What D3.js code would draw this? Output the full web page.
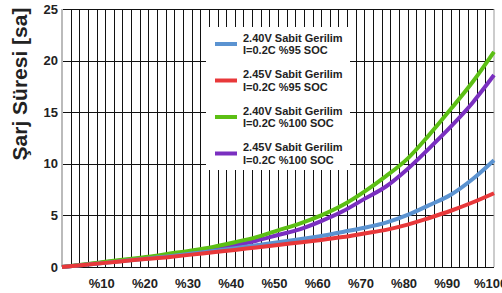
<!DOCTYPE html>
<html>
<head>
<meta charset="utf-8">
<script src="https://cdn.jsdelivr.net/npm/d3@7"></script>
<style>
  body { margin: 0; background: #fff; }
  text { font-family: 'Liberation Sans', Arial, sans-serif; font-weight: bold; fill: #222; }
</style>
</head>
<body>
<svg id="chart" width="502" height="293"></svg>
<script>
// charge level (%) on x, charge time (hours) on y
const soc = [0, 5, 10, 15, 20, 25, 30, 35, 40, 45, 50, 55, 60, 65, 70, 75, 80, 85, 90, 95, 100];

const blue240_95 = [0, 0.2, 0.4, 0.62, 0.83, 1.05, 1.3, 1.55, 1.82, 2.1, 2.4, 2.7, 3.0, 3.4, 3.8, 4.3, 5.05, 6.0, 7.0, 8.5, 10.35];
const red245_95 = [0, 0.2, 0.4, 0.6, 0.8, 0.98, 1.2, 1.43, 1.65, 1.9, 2.13, 2.38, 2.62, 2.9, 3.25, 3.6, 4.1, 4.75, 5.45, 6.25, 7.15];
const green240_100 = [0, 0.25, 0.5, 0.75, 1.0, 1.3, 1.6, 1.95, 2.4, 2.9, 3.55, 4.2, 5.0, 6.0, 7.3, 8.8, 10.5, 12.8, 15.3, 17.9, 20.85];
const purple245_100 = [0, 0.22, 0.45, 0.68, 0.92, 1.17, 1.45, 1.75, 2.1, 2.55, 3.1, 3.65, 4.45, 5.4, 6.6, 7.8, 9.5, 11.5, 13.6, 15.9, 18.6];

const xTicks = [10, 20, 30, 40, 50, 60, 70, 80, 90, 100];
const yTicks = [0, 5, 10, 15, 20, 25];

const series = [
  { name: ['2.40V Sabit Gerilim', 'I=0.2C %95 SOC'], values: blue240_95, color: '#5b93d1' },
  { name: ['2.45V Sabit Gerilim', 'I=0.2C %95 SOC'], values: red245_95, color: '#e8383a' },
  { name: ['2.40V Sabit Gerilim', 'I=0.2C %100 SOC'], values: green240_100, color: '#5cbf14' },
  { name: ['2.45V Sabit Gerilim', 'I=0.2C %100 SOC'], values: purple245_100, color: '#7a2fc0' },
];

const svg = d3.select('#chart');
const plotLeft = 62, plotRight = 494, plotTop = 9, plotBottom = 267;

const x = d3.scaleLinear().domain([0, 100]).range([plotLeft, plotRight]);
const y = d3.scaleLinear().domain([0, 25]).range([plotBottom, plotTop]);

// vertical grid every 2%
svg.append('g')
  .attr('transform', `translate(0,${plotBottom})`)
  .call(d3.axisBottom(x).tickValues(d3.range(2, 100, 2)).tickSize(-(plotBottom - plotTop)).tickFormat(''))
  .call(g => g.select('.domain').remove())
  .call(g => g.selectAll('line').attr('stroke', '#111').attr('shape-rendering', 'crispEdges'));

// horizontal grid
svg.append('g')
  .attr('transform', `translate(${plotLeft},0)`)
  .call(d3.axisLeft(y).tickValues(yTicks).tickSize(-(plotRight - plotLeft)).tickFormat(''))
  .call(g => g.select('.domain').remove())
  .call(g => g.selectAll('line').attr('stroke', '#111').attr('shape-rendering', 'crispEdges'));

// grey side borders
svg.append('line')
  .attr('x1', plotLeft).attr('x2', plotLeft).attr('y1', plotTop).attr('y2', plotBottom)
  .attr('stroke', '#bbb').attr('stroke-width', 2);
svg.append('line')
  .attr('x1', plotRight).attr('x2', plotRight).attr('y1', plotTop).attr('y2', plotBottom)
  .attr('stroke', '#999').attr('stroke-width', 1);

// legend background covers grid
svg.append('rect')
  .attr('x', 206).attr('y', 27).attr('width', 144).attr('height', 143)
  .attr('fill', '#fff');

const line = d3.line()
  .x((d, i) => x(soc[i]))
  .y(d => y(d))
  .curve(d3.curveMonotoneX);

// draw order so red sits on top at the low end
[3, 2, 0, 1].forEach(i => {
  svg.append('path')
    .datum(series[i].values)
    .attr('fill', 'none')
    .attr('stroke', series[i].color)
    .attr('stroke-width', 4)
    .attr('d', line);
});

// legend
const legend = svg.append('g');
series.forEach((s, i) => {
  const yy = 44 + i * 36.5;
  legend.append('line')
    .attr('x1', 215).attr('x2', 237).attr('y1', yy).attr('y2', yy)
    .attr('stroke', s.color).attr('stroke-width', 4);
  s.name.forEach((t, j) => {
    legend.append('text')
      .attr('x', 243)
      .attr('y', yy - 2.3 + j * 12.5)
      .attr('font-size', 11)
      .text(t);
  });
});

// x tick labels
svg.append('g')
  .attr('transform', `translate(0,${plotBottom})`)
  .call(d3.axisBottom(x).tickValues(xTicks).tickSize(0).tickPadding(12).tickFormat(d => '%' + d))
  .call(g => g.select('.domain').remove())
  .call(g => g.selectAll('text').attr('font-size', 13).attr('dx', -4).attr('fill', '#222'));

// y tick labels
svg.append('g')
  .attr('transform', `translate(${plotLeft},0)`)
  .call(d3.axisLeft(y).tickValues(yTicks).tickSize(0).tickPadding(4))
  .call(g => g.select('.domain').remove())
  .call(g => g.selectAll('text').attr('font-size', 13).attr('fill', '#222'));

// y axis title
svg.append('text')
  .attr('transform', 'translate(27,84) rotate(-90)')
  .attr('text-anchor', 'middle')
  .attr('font-size', 21)
  .text('Şarj Süresi [sa]');
</script>
</body>
</html>
